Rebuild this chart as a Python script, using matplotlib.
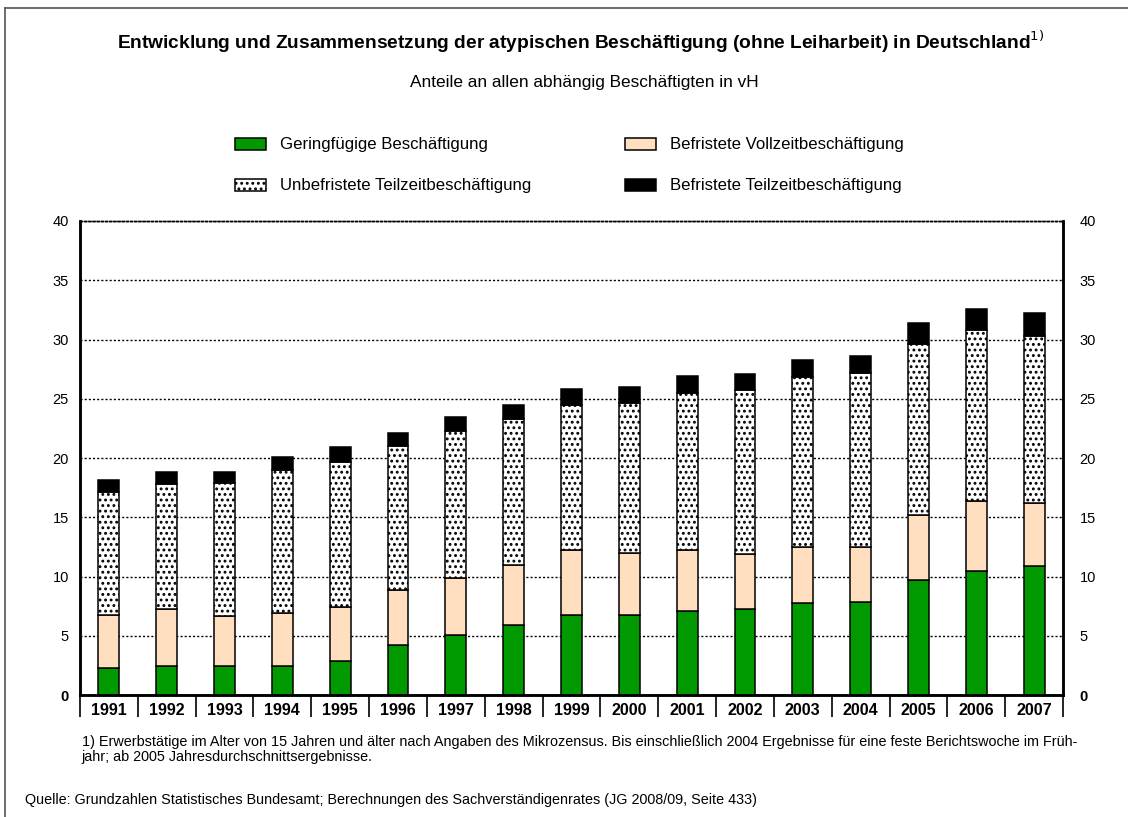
import numpy as np
import matplotlib
matplotlib.use('Agg')
import matplotlib.pyplot as plt
from matplotlib.lines import Line2D

plt.rcParams['font.family'] = ['Liberation Sans', 'DejaVu Sans']
plt.rcParams['hatch.linewidth'] = 1.3

# Daten (Anteile an allen abhängig Beschäftigten in vH)
jahre = ['1991', '1992', '1993', '1994', '1995', '1996', '1997', '1998', '1999',
         '2000', '2001', '2002', '2003', '2004', '2005', '2006', '2007']
geringfuegig = [2.3, 2.45, 2.45, 2.45, 2.85, 4.25, 5.05, 5.95, 6.75,
                6.75, 7.05, 7.3, 7.8, 7.85, 9.7, 10.5, 10.9]
befr_vollzeit = [4.45, 4.8, 4.2, 4.5, 4.6, 4.6, 4.8, 5.0, 5.5,
                 5.2, 5.2, 4.6, 4.7, 4.65, 5.45, 5.85, 5.3]
unbefr_teilzeit = [10.35, 10.55, 11.25, 12.05, 12.25, 12.15, 12.45, 12.35, 12.25,
                   12.65, 13.25, 13.85, 14.35, 14.65, 14.45, 14.45, 14.1]
befr_teilzeit = [1.05, 1.0, 0.95, 1.05, 1.2, 1.1, 1.15, 1.15, 1.3,
                 1.4, 1.4, 1.35, 1.45, 1.45, 1.8, 1.8, 1.9]
y_ticks = [0, 5, 10, 15, 20, 25, 30, 35, 40]
legende = ['Geringfügige Beschäftigung', 'Unbefristete Teilzeitbeschäftigung',
           'Befristete Vollzeitbeschäftigung', 'Befristete Teilzeitbeschäftigung']

fig = plt.figure(figsize=(11.28, 8.17), dpi=100)
ax = fig.add_axes([0.0709, 0.1493, 0.9424 - 0.0709, 0.7295 - 0.1493])

x = np.arange(len(jahre))
g = np.array(geringfuegig)
v = np.array(befr_vollzeit)
u = np.array(unbefr_teilzeit)
t = np.array(befr_teilzeit)

kw = dict(width=0.36, edgecolor='black', linewidth=1.1, zorder=3)
h1 = ax.bar(x, g, color='#009900', **kw)
h2 = ax.bar(x, v, bottom=g, color='#ffdfbf', **kw)
h3 = ax.bar(x, u, bottom=g + v, color='white', hatch='...', **kw)
h4 = ax.bar(x, t, bottom=g + v + u, color='black', **kw)

ax.set_xlim(-0.5, len(jahre) - 0.5)
ax.set_ylim(0, 40)
ax.set_yticks(y_ticks)
ax.yaxis.grid(True, color='black', linestyle=(0, (1.5, 1.5)), linewidth=1.0, zorder=0)
ax.set_axisbelow(True)
ax.tick_params(axis='y', length=0, labelsize=10.5, pad=8)

# rechte Achse mit gleicher Skala
ax2 = ax.twinx()
ax2.set_ylim(ax.get_ylim())
ax2.set_yticks(y_ticks)
ax2.tick_params(axis='y', length=0, labelsize=10.5, pad=12)
for a in (ax, ax2):
    a.get_yticklabels()[0].set_fontweight('bold')

# Jahreslabels mit Trennstrichen
ax.set_xticks(x)
ax.set_xticklabels(jahre, fontsize=11.6, fontweight='bold')
ax.set_xticks(np.arange(len(jahre) + 1) - 0.5, minor=True)
ax.tick_params(axis='x', which='major', length=0, pad=6)
ax.tick_params(axis='x', which='minor', length=16, width=1.2, direction='out')

for a in (ax, ax2):
    for s in ['left', 'right', 'bottom']:
        a.spines[s].set_linewidth(1.8)
    a.spines['top'].set_linestyle((0, (1.5, 1.5)))
    a.spines['top'].set_linewidth(1.0)

# Legende
fig.legend([h1, h3, h2, h4], legende,
           ncol=2, loc='center left', bbox_to_anchor=(0.2083, 0.7975), frameon=False,
           fontsize=12.1, handlelength=1.86, handleheight=0.72, columnspacing=5.6,
           labelspacing=1.55, handletextpad=0.8, borderpad=0, borderaxespad=0)

fig.text(0.515, 0.940, 'Entwicklung und Zusammensetzung der atypischen Beschäftigung '
         '(ohne Leiharbeit) in Deutschland$^{1)}$',
         ha='center', va='baseline', fontsize=13.8, fontweight='bold')
fig.text(0.518, 0.893, 'Anteile an allen abhängig Beschäftigten in vH',
         ha='center', va='baseline', fontsize=12.4)

fig.text(0.0725, 0.0922, '1) Erwerbstätige im Alter von 15 Jahren und älter nach Angaben des '
         'Mikrozensus. Bis einschließlich 2004 Ergebnisse für eine feste Berichtswoche im Früh-',
         ha='left', va='center', fontsize=10.4)
fig.text(0.0725, 0.0735, 'jahr; ab 2005 Jahresdurchschnittsergebnisse.',
         ha='left', va='center', fontsize=10.4)
fig.text(0.022, 0.021, 'Quelle: Grundzahlen Statistisches Bundesamt; Berechnungen des '
         'Sachverständigenrates (JG 2008/09, Seite 433)',
         ha='left', va='center', fontsize=10.4)

# Rahmen
fig.add_artist(Line2D([0.0045, 0.0045], [0.99, -0.1], transform=fig.transFigure,
                      color='#555555', linewidth=1.2))
fig.add_artist(Line2D([0.0045, 1.1], [0.99, 0.99], transform=fig.transFigure,
                      color='#555555', linewidth=1.2))

fig.savefig('out.png', dpi=100)
